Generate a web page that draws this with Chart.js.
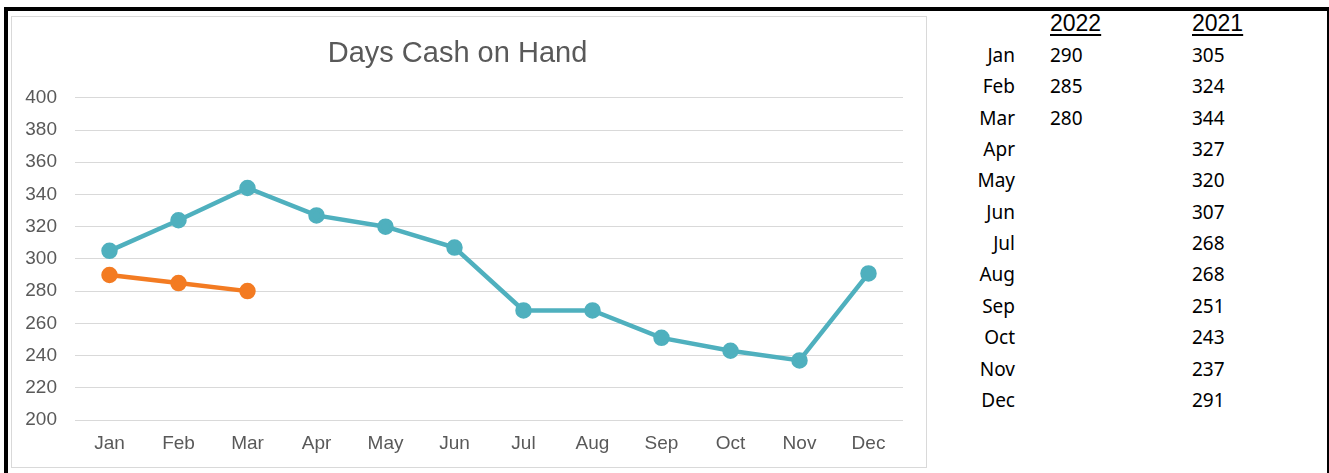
<!DOCTYPE html>
<html>
<head>
<meta charset="utf-8">
<script src="https://cdn.jsdelivr.net/npm/chart.js@4/dist/chart.umd.min.js"></script>
<style>
  html, body { margin: 0; padding: 0; background: #fff; }
  body { width: 1329px; height: 473px; position: relative; overflow: hidden; }
  #frame { position: absolute; left: 4px; top: 7px; width: 1319px; height: 480px;
           border-top: 4px solid #000; border-left: 4px solid #000; border-right: 2px solid #000; }
  #chartBox { position: absolute; left: 11px; top: 16px; width: 914px; height: 450px;
              border: 1px solid #d9d9d9; background: #fff; }
  #chartBox canvas { display: block; }
  .cell { position: absolute; font-family: "Noto Sans", sans-serif; font-size: 19px; color: #000;
          line-height: 24px; white-space: nowrap; }
  .month { text-align: right; width: 60px; }
  .head { font-family: "Liberation Sans", Arial, sans-serif; font-size: 23px; text-decoration: underline;
          text-underline-offset: 3px; }
</style>
</head>
<body>
<div id="frame"></div>
<div id="chartBox"><canvas id="cashChart" width="914" height="450"></canvas></div>
<div id="table"></div>
<script>
// Days cash on hand by month
const months = ['Jan', 'Feb', 'Mar', 'Apr', 'May', 'Jun', 'Jul', 'Aug', 'Sep', 'Oct', 'Nov', 'Dec'];
const days2022 = [290, 285, 280];
const days2021 = [305, 324, 344, 327, 320, 307, 268, 268, 251, 243, 237, 291];
const yearLabels = ['2022', '2021'];
const yTicks = [200, 220, 240, 260, 280, 300, 320, 340, 360, 380, 400];

const teal = '#4FB0BE';
const orange = '#F37B22';
const gray = '#595959';

new Chart(document.getElementById('cashChart'), {
    type: 'line',
    data: {
        labels: months,
        datasets: [{
            label: yearLabels[1],
            data: days2021,
            borderColor: teal,
            backgroundColor: teal,
            borderWidth: 4.5,
            pointRadius: 6,
            pointHoverRadius: 6,
            tension: 0
        }, {
            label: yearLabels[0],
            data: days2022,
            borderColor: orange,
            backgroundColor: orange,
            borderWidth: 4.5,
            pointRadius: 6,
            pointHoverRadius: 6,
            tension: 0
        }]
    },
    options: {
        responsive: false,
        animation: false,
        layout: { padding: { left: 0, right: 23, top: 0, bottom: 0 } },
        plugins: {
            legend: { display: false },
            tooltip: { enabled: false },
            title: {
                display: true,
                text: 'Days Cash on Hand',
                color: gray,
                font: { family: '"Liberation Sans", Arial, sans-serif', size: 29, weight: 'normal' },
                padding: { top: 20, bottom: 26 }
            }
        },
        scales: {
            x: {
                offset: true,
                grid: { display: false },
                border: { display: false },
                ticks: {
                    color: gray,
                    padding: 4,
                    font: { family: '"Liberation Sans", Arial, sans-serif', size: 19 }
                },
                afterFit: (scale) => { scale.height = 47; }
            },
            y: {
                min: yTicks[0],
                max: yTicks[yTicks.length - 1],
                afterBuildTicks: (scale) => { scale.ticks = yTicks.map(v => ({ value: v })); },
                grid: { color: '#d9d9d9', lineWidth: 1, drawTicks: false },
                border: { display: false },
                ticks: {
                    color: gray,
                    padding: 18,
                    font: { family: '"Liberation Sans", Arial, sans-serif', size: 19 }
                },
                afterFit: (scale) => { scale.width = 63; }
            }
        }
    }
});

// Data table beside the chart
const table = document.getElementById('table');
function addCell(text, cls, left, centerY) {
    const d = document.createElement('div');
    d.className = 'cell ' + cls;
    d.textContent = text;
    d.style.left = left + 'px';
    d.style.top = (centerY - 12) + 'px';
    table.appendChild(d);
}
addCell(yearLabels[0], 'head', 1050, 23);
addCell(yearLabels[1], 'head', 1192, 23);
months.forEach((m, i) => {
    const cy = 55 + i * 31.35;
    addCell(m, 'month', 955, cy);
    if (days2022[i] !== undefined) addCell(String(days2022[i]), '', 1050, cy);
    addCell(String(days2021[i]), '', 1192, cy);
});
</script>
</body>
</html>
